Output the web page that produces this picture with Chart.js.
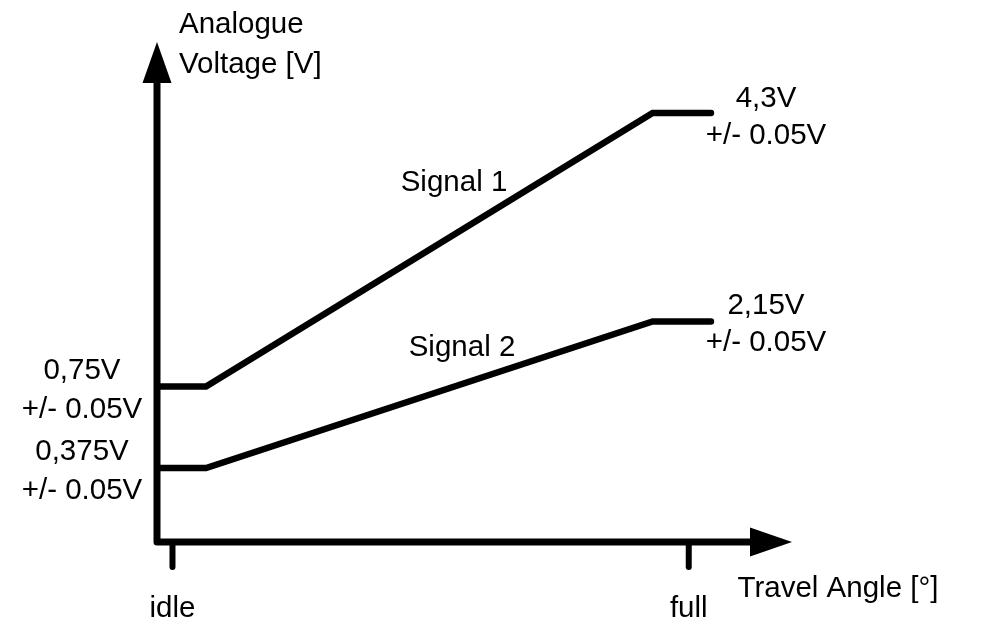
<!DOCTYPE html>
<html><head><meta charset="utf-8">
<script src="https://cdn.jsdelivr.net/npm/chart.js@4"></script>
<style>html,body{margin:0;padding:0;background:#fff;overflow:hidden}</style>
</head><body>
<canvas id="c" width="985" height="630"></canvas>
<script>
// Schematic data (travel in % of idle->full, voltage as schematic level 0..100)
const travelX = [-3, 6.5, 93, 104.3];
const signal1 = [31.1, 31.1, 85.8, 85.8];
const signal2 = [14.8, 14.8, 44.1, 44.1];
const xTickValues = [0, 100];
const xTickLabels = ['idle', 'full'];
const seriesNames = ['Signal 1', 'Signal 2'];
const lowLabels = [['0,75V', '+/- 0.05V'], ['0,375V', '+/- 0.05V']];
const highLabels = [['4,3V', '+/- 0.05V'], ['2,15V', '+/- 0.05V']];
const yAxisTitle = ['Analogue', 'Voltage [V]'];
const xAxisTitle = 'Travel Angle [°]';

const FONT = '29.5px "Liberation Sans", Arial, sans-serif';

const toPts = arr => travelX.map((x, i) => ({x, y: arr[i]}));

const schematic = {
  id: 'schematic',
  beforeDatasetsDraw(chart) {
    const ctx = chart.ctx, xs = chart.scales.x, ys = chart.scales.y;
    const x0 = xs.getPixelForValue(xs.min), xTip = xs.getPixelForValue(xs.max);
    const yb = ys.getPixelForValue(ys.min), yTop = ys.getPixelForValue(ys.max);
    ctx.save();
    ctx.strokeStyle = '#000'; ctx.fillStyle = '#000';
    ctx.lineWidth = 7; ctx.lineJoin = 'round'; ctx.lineCap = 'butt';
    ctx.beginPath();
    ctx.moveTo(x0, yTop + 38); ctx.lineTo(x0, yb); ctx.lineTo(xTip - 40, yb);
    ctx.stroke();
    // arrow heads
    ctx.beginPath();
    ctx.moveTo(x0, yTop); ctx.lineTo(x0 - 14.5, yTop + 41); ctx.lineTo(x0 + 14.5, yTop + 41); ctx.closePath(); ctx.fill();
    ctx.beginPath();
    ctx.moveTo(xTip, yb); ctx.lineTo(xTip - 42, yb - 14.5); ctx.lineTo(xTip - 42, yb + 14.5); ctx.closePath(); ctx.fill();
    // ticks
    ctx.lineWidth = 6; ctx.lineCap = 'round';
    xTickValues.forEach(v => {
      const px = xs.getPixelForValue(v);
      ctx.beginPath(); ctx.moveTo(px, yb); ctx.lineTo(px, yb + 25); ctx.stroke();
    });
    ctx.restore();
  },
  afterDraw(chart) {
    const ctx = chart.ctx, xs = chart.scales.x, ys = chart.scales.y;
    const x0 = xs.getPixelForValue(xs.min);
    const yb = ys.getPixelForValue(ys.min);
    ctx.save();
    ctx.fillStyle = '#000'; ctx.font = FONT; ctx.textBaseline = 'alphabetic';
    // y title
    ctx.textAlign = 'left';
    ctx.fillText(yAxisTitle[0], x0 + 22, 33);
    ctx.fillText(yAxisTitle[1], x0 + 22, 73);
    // x tick labels
    ctx.textAlign = 'center';
    xTickValues.forEach((v, i) => ctx.fillText(xTickLabels[i], xs.getPixelForValue(v), yb + 75));
    // x title
    ctx.fillText(xAxisTitle, 838, yb + 55);
    // series names
    ctx.fillText(seriesNames[0], 454, 191);
    ctx.fillText(seriesNames[1], 462, 356);
    // low labels (left)
    const lowY = [ys.getPixelForValue(signal1[0]), ys.getPixelForValue(signal2[0])];
    ctx.fillText(lowLabels[0][0], 82, lowY[0] - 8);
    ctx.fillText(lowLabels[0][1], 82, lowY[0] + 31);
    ctx.fillText(lowLabels[1][0], 82, lowY[1] - 8);
    ctx.fillText(lowLabels[1][1], 82, lowY[1] + 31);
    // high labels (right)
    const hiY = [ys.getPixelForValue(signal1[3]), ys.getPixelForValue(signal2[3])];
    ctx.fillText(highLabels[0][0], 766, hiY[0] - 6);
    ctx.fillText(highLabels[0][1], 766, hiY[0] + 31);
    ctx.fillText(highLabels[1][0], 766, hiY[1] - 8);
    ctx.fillText(highLabels[1][1], 766, hiY[1] + 29);
    ctx.restore();
  }
};

new Chart(document.getElementById('c'), {
  type: 'line',
  data: {
    datasets: [
      {label: seriesNames[0], data: toPts(signal1)},
      {label: seriesNames[1], data: toPts(signal2)}
    ]
  },
  options: {
    responsive: false,
    animation: false,
    devicePixelRatio: 1,
    layout: {padding: {left: 157, right: 193, top: 42, bottom: 88}},
    elements: {
      line: {borderColor: '#000', borderWidth: 6.5, borderCapStyle: 'round', borderJoinStyle: 'miter', tension: 0, fill: false},
      point: {radius: 0, hoverRadius: 0}
    },
    scales: {
      x: {type: 'linear', min: -3, max: 120, display: false},
      y: {type: 'linear', min: 0, max: 100, display: false}
    },
    plugins: {legend: {display: false}, tooltip: {enabled: false}}
  },
  plugins: [schematic]
});
</script>
</body></html>
